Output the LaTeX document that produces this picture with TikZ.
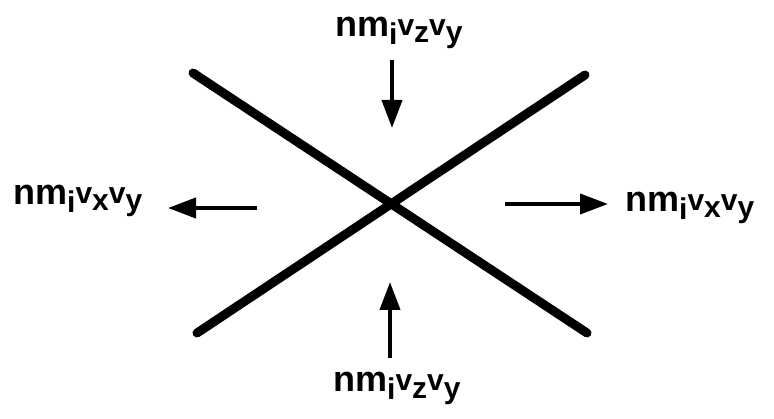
\documentclass[tikz,border=0pt]{standalone}
\usepackage{fontspec}
\setmainfont{Liberation Sans}
\usetikzlibrary{arrows.meta,positioning}

\newcommand{\sm}{\fontsize{30}{30}\selectfont}
\newcommand{\fluxlab}[1]{nm\raisebox{-8pt}{\sm i}\raisebox{1pt}{\sm v}\raisebox{-6pt}{\sm #1}\raisebox{1pt}{\sm v}\raisebox{-6pt}{\sm y}}

\begin{document}
\begin{tikzpicture}[x=1pt,y=-1pt,
    lab/.style={anchor=base west,inner sep=0pt,font=\fontsize{36}{36}\selectfont\bfseries},
    bar/.style={line width=9pt,line cap=round},
    push/.style={line width=4pt,-{Triangle[length=28pt,width=20pt]}}]
\useasboundingbox (0,0) rectangle (774,419);
\coordinate (nw) at (193,73);
\coordinate (se) at (587,333);
\coordinate (sw) at (197,333);
\coordinate (ne) at (585,75);
\draw[bar] (nw) -- (se);
\draw[bar] (sw) -- (ne);

\node[lab] (top) at (335,37) {\fluxlab{z}};
\node[lab] (bot) at (333,392) {\fluxlab{z}};
\node[lab] (lft) at (13,205) {\fluxlab{x}};
\node[lab] (rgt) at (625,212) {\fluxlab{x}};

\coordinate (topa) at (392,60);
\coordinate (topb) at (392,128);
\coordinate (bota) at (390,358);
\coordinate (botb) at (390,282);
\coordinate (lfta) at (257,208);
\coordinate (lftb) at (168,208);
\coordinate (rgta) at (505,204);
\coordinate (rgtb) at (608,204);
\draw[push] (topa) -- (topb);
\draw[push] (bota) -- (botb);
\draw[push] (lfta) -- (lftb);
\draw[push] (rgta) -- (rgtb);
\end{tikzpicture}
\end{document}
